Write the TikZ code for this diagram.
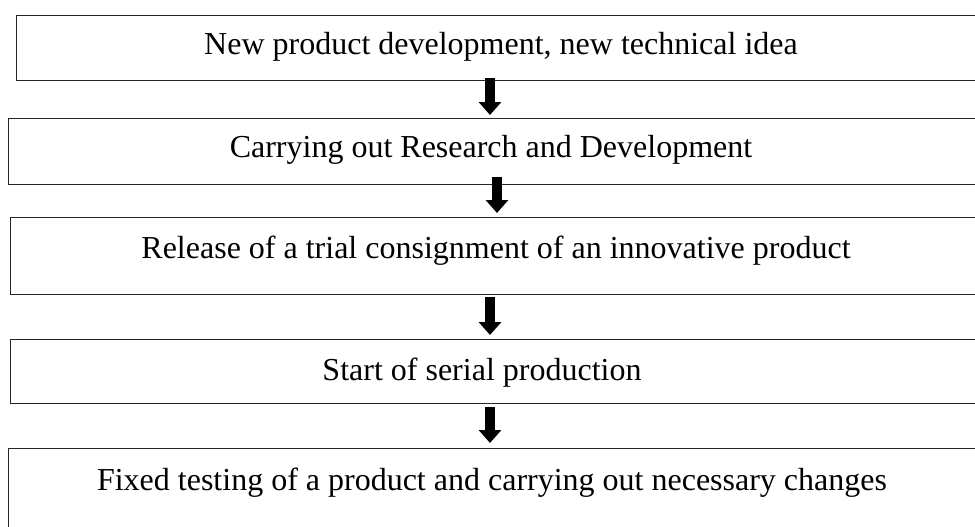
\documentclass[tikz,border=0pt]{standalone}
\usepackage{fontspec}
\setmainfont{Liberation Serif}
\usetikzlibrary{arrows.meta}
\begin{document}
\begin{tikzpicture}[x=1pt,y=-1pt,
  box/.style={draw=black!85,line width=1.3pt,anchor=north west,inner sep=0pt,minimum width=1000pt},
  lbl/.style={anchor=base,inner sep=0pt,font=\fontsize{32}{38}\selectfont},
  bigarrow/.style={line width=10pt,-{Triangle[width=22pt,length=13pt]}}]
\useasboundingbox (0,0) rectangle (975,527);
\clip (0,0) rectangle (975,527);
\node[box,minimum height=65pt] (b1) at (16,15) {};
\node[box,minimum height=66pt] (b2) at (8,118) {};
\node[box,minimum height=77pt] (b3) at (10,217) {};
\node[box,minimum height=64pt] (b4) at (10,339) {};
\node[box,minimum height=120pt] (b5) at (8,448) {};
\node[lbl] (t1) at (501,55) {New product development, new technical idea};
\node[lbl] (t2) at (491,157) {Carrying out Research and Development};
\node[lbl] (t3) at (496,258) {Release of a trial consignment of an innovative product};
\node[lbl] (t4) at (482,380) {Start of serial production};
\node[lbl] (t5) at (492,490) {Fixed testing of a product and carrying out necessary changes};
\coordinate (a1s) at (490,78);  \coordinate (a1e) at (490,115);
\coordinate (a2s) at (497,177); \coordinate (a2e) at (497,213);
\coordinate (a3s) at (490,297); \coordinate (a3e) at (490,335);
\coordinate (a4s) at (490,407); \coordinate (a4e) at (490,443);
\draw[bigarrow] (a1s) -- (a1e);
\draw[bigarrow] (a2s) -- (a2e);
\draw[bigarrow] (a3s) -- (a3e);
\draw[bigarrow] (a4s) -- (a4e);
\end{tikzpicture}
\end{document}
